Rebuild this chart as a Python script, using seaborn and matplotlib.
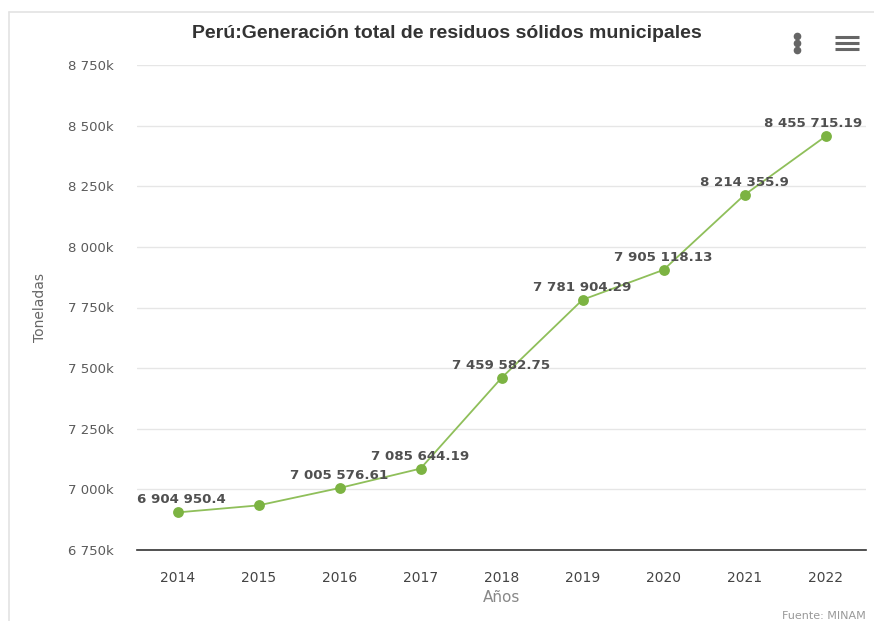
import matplotlib
matplotlib.use("Agg")
import matplotlib.pyplot as plt
import matplotlib.transforms as mtransforms
from matplotlib.lines import Line2D
from matplotlib.ticker import FuncFormatter
import seaborn as sns
import pandas as pd

# ---- data ----
years = [2014, 2015, 2016, 2017, 2018, 2019, 2020, 2021, 2022]
toneladas = [6904950.4, 6934000.0, 7005576.61, 7085644.19, 7459582.75,
             7781904.29, 7905118.13, 8214355.9, 8455715.19]
label_texts = ["6 904 950.4", "", "7 005 576.61", "7 085 644.19", "7 459 582.75",
               "7 781 904.29", "7 905 118.13", "8 214 355.9", "8 455 715.19"]
y_ticks = [6750000, 7000000, 7250000, 7500000, 7750000, 8000000, 8250000, 8500000, 8750000]
title = "Perú:Generación total de residuos sólidos municipales"
x_title = "Años"
y_title = "Toneladas"
source = "Fuente: MINAM"

df = pd.DataFrame({"year": years, "value": toneladas})

sns.set_theme(style="white")
plt.rcParams['font.family'] = ['DejaVu Sans']

W, H = 874, 621
fig = plt.figure(figsize=(W / 100, H / 100), dpi=100)
fig.patch.set_facecolor("white")

L, R, T, B = 137, 866, 65, 550
ax = fig.add_axes([L / W, 1 - B / H, (R - L) / W, (B - T) / H])

sns.lineplot(data=df, x="year", y="value", ax=ax, color="#8fbf5a", linewidth=1.3,
             marker="o", markersize=7.8, markerfacecolor="#7cb342",
             markeredgecolor="#7cb342", markeredgewidth=0, zorder=3)

ax.set_xlim(years[0] - 0.5, years[-1] + 0.5)
ax.set_ylim(y_ticks[0], y_ticks[-1])
ax.set_yticks(y_ticks)
ax.set_xticks(years)
ax.set_xticklabels([str(y) for y in years])

def kfmt(v, pos):
    k = int(round(v / 1000))
    s = f"{k:,}".replace(",", " ")
    return s + "k"
ax.yaxis.set_major_formatter(FuncFormatter(kfmt))

ax.grid(axis="y", color="#e6e6e6", linewidth=1)
ax.grid(axis="x", visible=False)
for s in ["top", "right", "left"]:
    ax.spines[s].set_visible(False)
ax.spines["bottom"].set_color("#333333")
ax.spines["bottom"].set_linewidth(1.2)

ax.tick_params(axis="y", length=0, pad=17, labelsize=9.5, labelcolor="#5a5a5a")
ax.tick_params(axis="x", length=0, pad=15, labelsize=10, labelcolor="#444444")

ax.set_xlabel(x_title, fontsize=11, color="#888888")
ax.xaxis.set_label_coords(0.5, -0.082)
ax.set_ylabel(y_title, fontsize=10, color="#666666")
ax.yaxis.set_label_coords(-0.133, 0.5)
ax.yaxis.label.set_va("center")

# data labels
blend = mtransforms.blended_transform_factory(ax.transAxes, ax.transData)
for i, (x, v, t) in enumerate(zip(years, toneladas, label_texts)):
    if not t:
        continue
    if i == 0:
        ax.annotate(t, xy=(0.0, v), xycoords=blend, xytext=(0, 6.5),
                    textcoords="offset points", ha="left", va="baseline",
                    fontsize=9.6, fontweight="bold", color="#505050", zorder=4)
    elif i == len(years) - 1:
        ax.annotate(t, xy=(0.995, v), xycoords=blend, xytext=(0, 6.5),
                    textcoords="offset points", ha="right", va="baseline",
                    fontsize=9.6, fontweight="bold", color="#505050", zorder=4)
    else:
        ax.annotate(t, xy=(x, v), xytext=(0, 6.5), textcoords="offset points",
                    ha="center", va="baseline",
                    fontsize=9.6, fontweight="bold", color="#505050", zorder=4)

# title
fig.text(447 / W, 1 - 33 / H, title, ha="center", va="center", fontsize=14,
         fontweight="bold", color="#333333",
         family=["Liberation Sans", "DejaVu Sans"])

# source
fig.text(866 / W, 1 - 616 / H, source, ha="right", va="center", fontsize=8,
         color="#999999")

# card border
fig.add_artist(Line2D([9 / W, 1], [1 - 12 / H, 1 - 12 / H], transform=fig.transFigure,
                      color="#e3e3e3", linewidth=1.2))
fig.add_artist(Line2D([9 / W, 9 / W], [0, 1 - 12 / H], transform=fig.transFigure,
                      color="#e3e3e3", linewidth=1.2))

# menu icons
for yy in (36, 43, 50):
    fig.add_artist(Line2D([797 / W], [1 - yy / H], transform=fig.transFigure,
                          marker="o", markersize=4.5, color="#666666", linestyle="none"))
for yy in (37, 43, 49):
    fig.add_artist(Line2D([835 / W, 859 / W], [1 - yy / H, 1 - yy / H],
                          transform=fig.transFigure, color="#666666", linewidth=2.2,
                          solid_capstyle="butt"))

fig.savefig("out.png", dpi=100, facecolor="white")
